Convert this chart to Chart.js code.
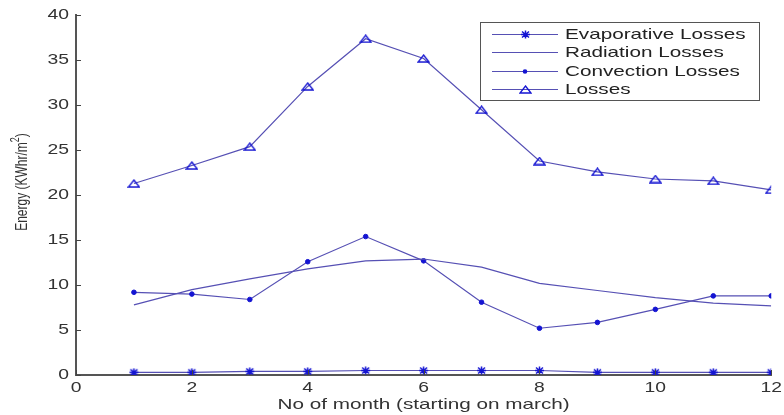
<!DOCTYPE html>
<html>
<head>
<meta charset="utf-8">
<script src="https://cdn.jsdelivr.net/npm/chart.js@4/dist/chart.umd.min.js"></script>
<style>
  html, body { margin: 0; padding: 0; background: #fff; }
  #wrap { width: 784px; height: 415px; }
</style>
</head>
<body>
<div id="wrap"><canvas id="c" width="784" height="415"></canvas></div>
<script>
// Month index (1 = March)
const months = [1, 2, 3, 4, 5, 6, 7, 8, 9, 10, 11, 12];

// Monthly energy losses, KWhr/m²
const evaporative = [0.3, 0.3, 0.4, 0.4, 0.5, 0.5, 0.5, 0.5, 0.3, 0.3, 0.3, 0.3];
const radiation   = [7.8, 9.5, 10.7, 11.8, 12.7, 12.9, 12.0, 10.2, 9.4, 8.6, 8.0, 7.7];
const convection  = [9.2, 9.0, 8.4, 12.6, 15.4, 12.7, 8.1, 5.2, 5.85, 7.3, 8.8, 8.8];
const losses      = [21.3, 23.3, 25.4, 32.1, 37.4, 35.2, 29.5, 23.8, 22.6, 21.8, 21.6, 20.6];

const seriesNames = ['Evaporative Losses', 'Radiation Losses', 'Convection Losses', 'Losses'];

const LINE = '#5650b4';
const MARK = '#1414d2';
const TEXT = '#333';
const FONT = "'Liberation Sans', Arial, sans-serif";
const WIDE = 1.38;   // horizontal stretch applied to all lettering

const toXY = vals => months.map((m, i) => ({ x: m, y: vals[i] }));

// Wide, flat marker glyphs
function makeMarker(w, h, draw) {
  const cv = document.createElement('canvas');
  cv.width = w; cv.height = h;
  const g = cv.getContext('2d');
  g.strokeStyle = MARK;
  g.lineWidth = 1.3;
  draw(g, w, h);
  return cv;
}
const triMarker = makeMarker(13, 9, (g, w, h) => {
  g.beginPath();
  g.moveTo(w / 2, 1);
  g.lineTo(w - 1, h - 1);
  g.lineTo(1, h - 1);
  g.closePath();
  g.stroke();
});
const starMarker = makeMarker(11, 9, (g, w, h) => {
  const cx = w / 2, cy = h / 2;
  g.lineWidth = 1.5;
  g.beginPath();
  g.moveTo(cx, 0.5); g.lineTo(cx, h - 0.5);
  g.moveTo(1, cy); g.lineTo(w - 1, cy);
  g.moveTo(2, 1.5); g.lineTo(w - 2, h - 1.5);
  g.moveTo(w - 2, 1.5); g.lineTo(2, h - 1.5);
  g.stroke();
});

// Stretch every piece of text horizontally about its anchor point
const canvas = document.getElementById('c');
const ctx2d = canvas.getContext('2d');
const baseFillText = ctx2d.fillText.bind(ctx2d);
ctx2d.fillText = function (text, x, y, maxWidth) {
  const m = this.getTransform();
  const p = m.transformPoint(new DOMPoint(x, y));
  this.save();
  this.setTransform(new DOMMatrix().translate(p.x, p.y).scale(WIDE, 1).translate(-p.x, -p.y).multiply(m));
  if (maxWidth === undefined) baseFillText(text, x, y);
  else baseFillText(text, x, y, maxWidth);
  this.restore();
};

// Legend box drawn inside the plot area
const boxLegend = {
  id: 'boxLegend',
  afterDraw(chart) {
    const ctx = chart.ctx;
    const x0 = 480, y0 = 22, w = 279, h = 78;
    ctx.save();
    ctx.fillStyle = '#fff';
    ctx.fillRect(x0, y0, w, h);
    ctx.strokeStyle = '#555';
    ctx.lineWidth = 1;
    ctx.strokeRect(x0 + 0.5, y0 + 0.5, w, h);
    const rows = [34, 52, 71, 89];
    chart.data.datasets.forEach((ds, i) => {
      const y = rows[i];
      ctx.strokeStyle = ds.borderColor;
      ctx.lineWidth = 1.2;
      ctx.beginPath();
      ctx.moveTo(492, y + 0.5);
      ctx.lineTo(558, y + 0.5);
      ctx.stroke();
      const ps = ds.pointStyle;
      if (ds.pointRadius > 0) {
        if (ps instanceof HTMLCanvasElement) {
          ctx.drawImage(ps, Math.round(525 - ps.width / 2), Math.round(y + 0.5 - ps.height / 2));
        } else {
          ctx.fillStyle = ds.pointBackgroundColor;
          ctx.beginPath();
          ctx.arc(525, y + 0.5, ds.pointRadius, 0, Math.PI * 2);
          ctx.fill();
        }
      }
      ctx.fillStyle = '#222';
      ctx.font = '15px ' + FONT;
      ctx.textBaseline = 'middle';
      ctx.textAlign = 'left';
      ctx.fillText(seriesNames[i], 565, y + 1);
    });
    ctx.restore();
  }
};

// Inward tick marks and the rotated y-axis title
const axisExtras = {
  id: 'axisExtras',
  afterDatasetsDraw(chart) {
    const ctx = chart.ctx;
    const xs = chart.scales.x, ys = chart.scales.y;
    const a = chart.chartArea;
    ctx.save();
    ctx.strokeStyle = '#444';
    ctx.lineWidth = 1;
    ys.ticks.forEach(t => {
      const py = Math.round(ys.getPixelForValue(t.value)) + 0.5;
      ctx.beginPath();
      ctx.moveTo(a.left, py);
      ctx.lineTo(a.left + 5, py);
      ctx.stroke();
    });
    xs.ticks.forEach(t => {
      const px = Math.round(xs.getPixelForValue(t.value)) + 0.5;
      ctx.beginPath();
      ctx.moveTo(px, a.bottom);
      ctx.lineTo(px, a.bottom - 5);
      ctx.stroke();
    });
    ctx.restore();

    // y title: "Energy (KWhr/m²)" with a raised 2
    ctx.save();
    ctx.translate(22, 182);
    ctx.rotate(-Math.PI / 2);
    ctx.fillStyle = TEXT;
    ctx.textBaseline = 'middle';
    ctx.textAlign = 'left';
    const main = 'Energy (KWhr/m';
    const big = '12px ' + FONT, small = '9px ' + FONT;
    ctx.font = big;
    const w1 = ctx.measureText(main).width;
    ctx.font = small;
    const w2 = ctx.measureText('2').width;
    ctx.font = big;
    const w3 = ctx.measureText(')').width;
    let x = -(w1 + w2 + w3) / 2;
    ctx.fillText(main, x, 0);
    x += w1;
    ctx.font = small;
    ctx.fillText('2', x, -6);
    x += w2;
    ctx.font = big;
    ctx.fillText(')', x, 0);
    ctx.restore();
  }
};

const common = {
  borderColor: LINE,
  borderWidth: 1.2,
  pointBorderColor: MARK,
  pointBackgroundColor: MARK,
  fill: false,
  tension: 0
};

new Chart(canvas, {
  type: 'line',
  data: {
    datasets: [
      Object.assign({}, common, { label: seriesNames[0], data: toXY(evaporative),
        pointStyle: starMarker, pointRadius: 5 }),
      Object.assign({}, common, { label: seriesNames[1], data: toXY(radiation),
        pointRadius: 0 }),
      Object.assign({}, common, { label: seriesNames[2], data: toXY(convection),
        pointStyle: 'circle', pointRadius: 2.3, pointBorderWidth: 1 }),
      Object.assign({}, common, { label: seriesNames[3], data: toXY(losses),
        pointStyle: triMarker, pointRadius: 6 })
    ]
  },
  options: {
    responsive: false,
    animation: false,
    layout: { padding: { top: 15, right: 11, left: 0, bottom: 0 } },
    plugins: {
      legend: { display: false },
      tooltip: { enabled: false }
    },
    scales: {
      x: {
        type: 'linear',
        min: 0, max: 12,
        afterFit(s) { s.height = 40; },
        ticks: { stepSize: 2, padding: 5, color: TEXT, font: { family: FONT, size: 14 }, maxRotation: 0 },
        grid: { display: true, drawOnChartArea: false, drawTicks: false },
        border: { display: true, color: '#555', width: 2 },
        title: { display: true, text: 'No of month (starting on march)', color: TEXT,
                 font: { family: FONT, size: 15 }, padding: { top: 0, bottom: 1 } }
      },
      y: {
        min: 0, max: 40,
        afterFit(s) { s.width = 76; },
        ticks: { stepSize: 5, padding: 7, color: TEXT, font: { family: FONT, size: 14 } },
        grid: { display: true, drawOnChartArea: false, drawTicks: false },
        border: { display: true, color: '#555', width: 2 }
      }
    }
  },
  plugins: [axisExtras, boxLegend]
});
</script>
</body>
</html>
